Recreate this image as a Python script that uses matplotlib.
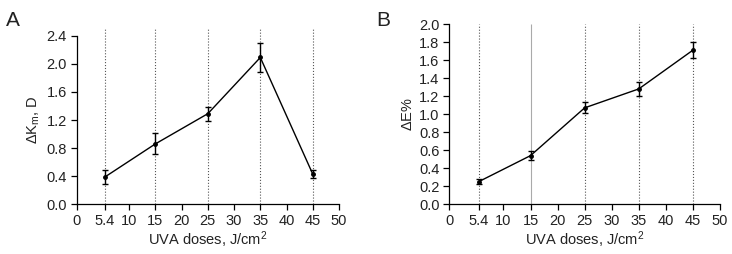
import matplotlib
matplotlib.use("Agg")
import matplotlib.pyplot as plt

plt.rcParams['font.family'] = ['Liberation Sans', 'DejaVu Sans']
plt.rcParams['mathtext.fontset'] = 'custom'
plt.rcParams['mathtext.rm'] = 'Liberation Sans'
plt.rcParams['mathtext.it'] = 'Liberation Sans'

doses = [5.4, 15, 25, 35, 45]
xticks = [0, 5.4, 10, 15, 20, 25, 30, 35, 40, 45, 50]
xticklabels = ['0', '5.4', '10', '15', '20', '25', '30', '35', '40', '45', '50']

dK = [0.39, 0.86, 1.29, 2.09, 0.43]
dK_err = [0.10, 0.15, 0.10, 0.20, 0.06]
dE = [0.25, 0.54, 1.07, 1.28, 1.71]
dE_err = [0.03, 0.05, 0.06, 0.08, 0.09]

W, H = 732, 254
fig = plt.figure(figsize=(W / 100, H / 100), dpi=100)

def px_axes(l, r, b, t):
    return fig.add_axes([l / W, (H - b) / H, (r - l) / W, (b - t) / H])

axA = px_axes(76.7, 339, 204.3, 35.7)
axB = px_axes(449.3, 720, 204.3, 24)

FS = 10.5
TXT = '#222222'

def style(ax, y, yerr, ylim, yticks, ylabel, grid_styles, gtop):
    for x, ls in zip(doses, grid_styles):
        ax.vlines(x, 0, gtop, colors='#555555' if ls == ':' else '#aaaaaa',
                  linestyles=ls, linewidth=0.8, clip_on=False, zorder=1)
    ax.errorbar(doses, y, yerr=yerr, color='black', linewidth=1.0,
                marker='o', markersize=2.5, capsize=2.5, elinewidth=1.0,
                capthick=1.0, clip_on=False, zorder=3)
    ax.set_xlim(0, 50)
    ax.set_ylim(*ylim)
    ax.set_xticks(xticks)
    ax.set_xticklabels(xticklabels)
    ax.set_yticks(yticks)
    ax.set_yticklabels([f'{v:.1f}' for v in yticks])
    ax.spines['top'].set_visible(False)
    ax.spines['right'].set_visible(False)
    for s in ('left', 'bottom'):
        ax.spines[s].set_linewidth(0.9)
    ax.tick_params(direction='out', length=4, width=0.9, labelsize=FS,
                   colors='black', labelcolor=TXT, pad=3)
    ax.set_xlabel('UVA doses, J/cm$^2$', fontsize=FS, labelpad=1, color=TXT)
    ax.set_ylabel(ylabel, fontsize=FS, labelpad=3, color=TXT)

style(axA, dK, dK_err, (0, 2.4), [0.0, 0.4, 0.8, 1.2, 1.6, 2.0, 2.4],
      r'$\Delta$K$_m$, D', [':', ':', ':', ':', ':'], 2.5)
style(axB, dE, dE_err, (0, 2.0), [0.0, 0.2, 0.4, 0.6, 0.8, 1.0, 1.2, 1.4, 1.6, 1.8, 2.0],
      r'$\Delta$E%', [':', '-', ':', ':', ':'], 2.0)

fig.text(6 / W, 1 - 26 / H, 'A', fontsize=15, va='baseline', color=TXT)
fig.text(376 / W, 1 - 26 / H, 'B', fontsize=15, va='baseline', color=TXT)

fig.savefig('out.png', dpi=100)
